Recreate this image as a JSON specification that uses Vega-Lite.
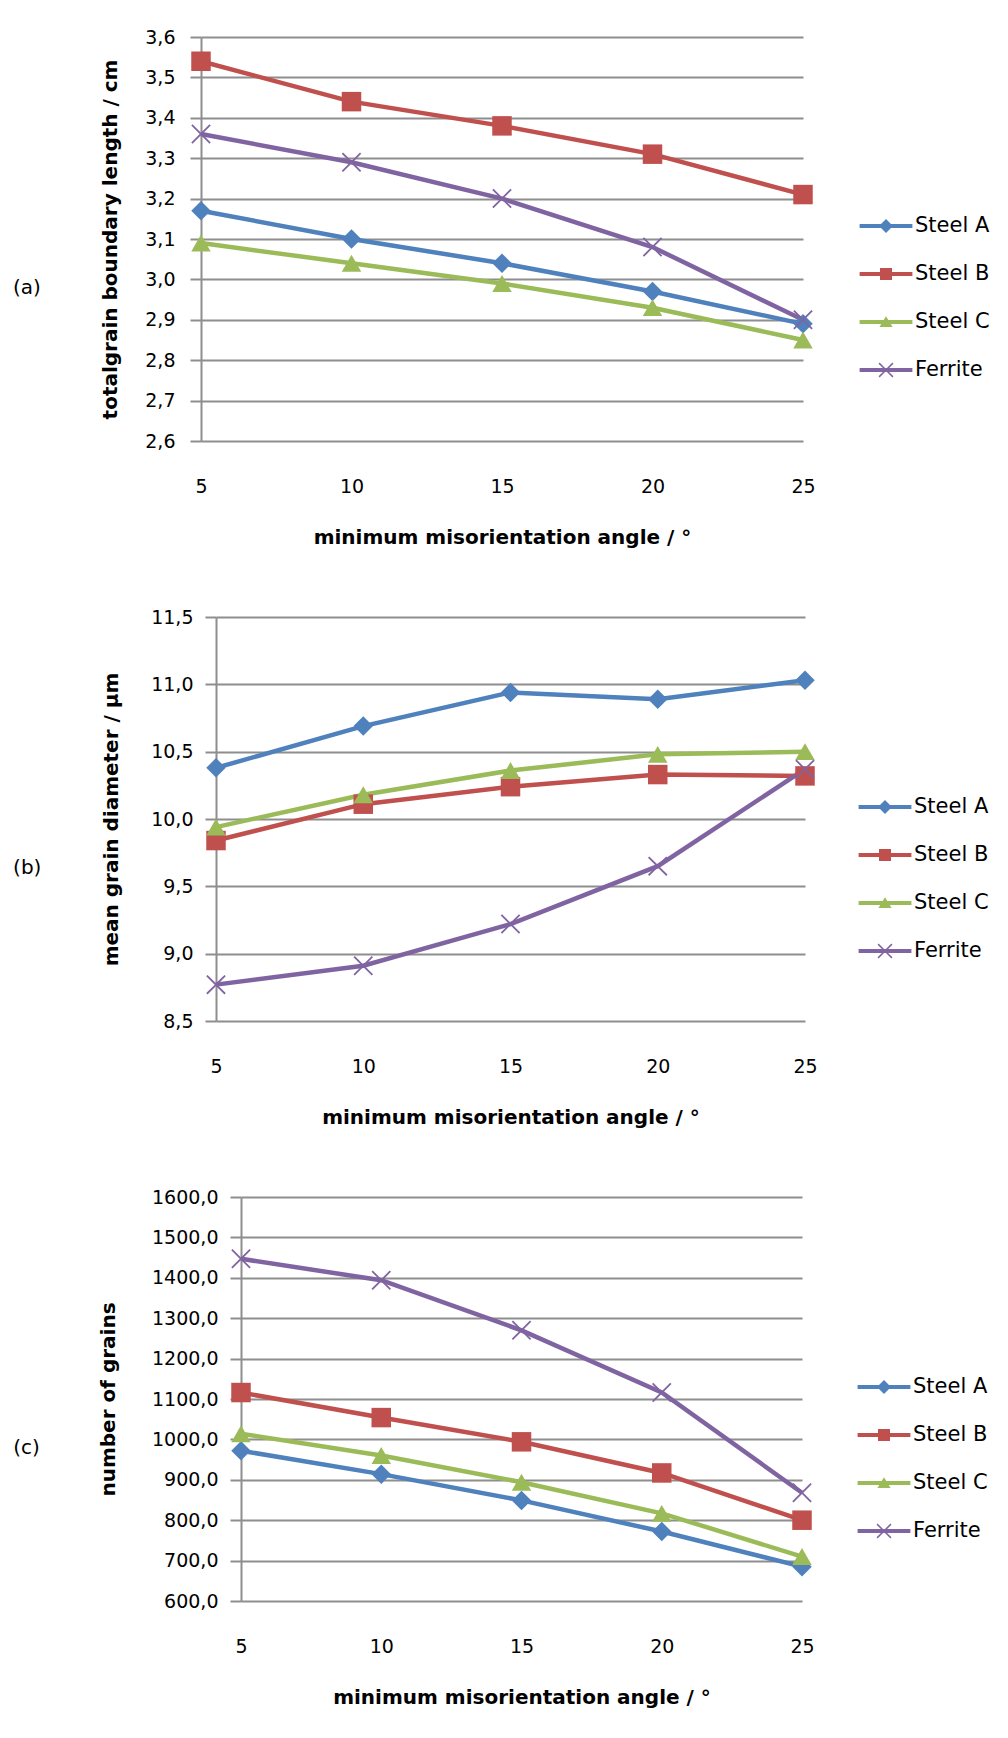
{
  "$schema": "https://vega.github.io/schema/vega-lite/v6.json",
  "padding": {"left": 12, "top": 28, "right": 5, "bottom": 5},
  "background": "#ffffff",
  "datasets": {
    "a": [
      {"angle": 5, "series": "Steel A", "value": 3.17},
      {"angle": 10, "series": "Steel A", "value": 3.10},
      {"angle": 15, "series": "Steel A", "value": 3.04},
      {"angle": 20, "series": "Steel A", "value": 2.97},
      {"angle": 25, "series": "Steel A", "value": 2.89},
      {"angle": 5, "series": "Steel B", "value": 3.54},
      {"angle": 10, "series": "Steel B", "value": 3.44},
      {"angle": 15, "series": "Steel B", "value": 3.38},
      {"angle": 20, "series": "Steel B", "value": 3.31},
      {"angle": 25, "series": "Steel B", "value": 3.21},
      {"angle": 5, "series": "Steel C", "value": 3.09},
      {"angle": 10, "series": "Steel C", "value": 3.04},
      {"angle": 15, "series": "Steel C", "value": 2.99},
      {"angle": 20, "series": "Steel C", "value": 2.93},
      {"angle": 25, "series": "Steel C", "value": 2.85},
      {"angle": 5, "series": "Ferrite", "value": 3.36},
      {"angle": 10, "series": "Ferrite", "value": 3.29},
      {"angle": 15, "series": "Ferrite", "value": 3.20},
      {"angle": 20, "series": "Ferrite", "value": 3.08},
      {"angle": 25, "series": "Ferrite", "value": 2.90}
    ],
    "b": [
      {"angle": 5, "series": "Steel A", "value": 10.38},
      {"angle": 10, "series": "Steel A", "value": 10.69},
      {"angle": 15, "series": "Steel A", "value": 10.94},
      {"angle": 20, "series": "Steel A", "value": 10.89},
      {"angle": 25, "series": "Steel A", "value": 11.03},
      {"angle": 5, "series": "Steel B", "value": 9.84},
      {"angle": 10, "series": "Steel B", "value": 10.11},
      {"angle": 15, "series": "Steel B", "value": 10.24},
      {"angle": 20, "series": "Steel B", "value": 10.33},
      {"angle": 25, "series": "Steel B", "value": 10.32},
      {"angle": 5, "series": "Steel C", "value": 9.94},
      {"angle": 10, "series": "Steel C", "value": 10.18},
      {"angle": 15, "series": "Steel C", "value": 10.36},
      {"angle": 20, "series": "Steel C", "value": 10.48},
      {"angle": 25, "series": "Steel C", "value": 10.50},
      {"angle": 5, "series": "Ferrite", "value": 8.77},
      {"angle": 10, "series": "Ferrite", "value": 8.91},
      {"angle": 15, "series": "Ferrite", "value": 9.22},
      {"angle": 20, "series": "Ferrite", "value": 9.65},
      {"angle": 25, "series": "Ferrite", "value": 10.37}
    ],
    "c": [
      {"angle": 5, "series": "Steel A", "value": 972},
      {"angle": 10, "series": "Steel A", "value": 914},
      {"angle": 15, "series": "Steel A", "value": 849},
      {"angle": 20, "series": "Steel A", "value": 772},
      {"angle": 25, "series": "Steel A", "value": 685},
      {"angle": 5, "series": "Steel B", "value": 1116},
      {"angle": 10, "series": "Steel B", "value": 1054},
      {"angle": 15, "series": "Steel B", "value": 994},
      {"angle": 20, "series": "Steel B", "value": 917},
      {"angle": 25, "series": "Steel B", "value": 800},
      {"angle": 5, "series": "Steel C", "value": 1014},
      {"angle": 10, "series": "Steel C", "value": 960},
      {"angle": 15, "series": "Steel C", "value": 894},
      {"angle": 20, "series": "Steel C", "value": 817},
      {"angle": 25, "series": "Steel C", "value": 710},
      {"angle": 5, "series": "Ferrite", "value": 1447},
      {"angle": 10, "series": "Ferrite", "value": 1394},
      {"angle": 15, "series": "Ferrite", "value": 1270},
      {"angle": 20, "series": "Ferrite", "value": 1116},
      {"angle": 25, "series": "Ferrite", "value": 868}
    ]
  },
  "vconcat": [
    {"spacing": 0, "hconcat": [
    {"width": 1, "height": 10, "data": {"values": []}, "mark": {"type": "point", "opacity": 0}},
    {
      "width": 602,
      "height": 404,
      "data": {"name": "a"},
      "title": {"text": "(a)", "orient": "left", "anchor": "middle", "frame": "bounds", "angle": 0, "align": "right", "baseline": "middle", "offset": 32},
      "encoding": {
        "x": {"field": "angle", "type": "quantitative", "scale": {"domain": [5, 25], "nice": false, "zero": false},
              "axis": {"values": [5, 10, 15, 20, 25], "format": "d", "grid": false, "domain": false, "ticks": false, "labelPadding": 36, "labelFlush": false, "title": "minimum misorientation angle / °", "titlePadding": 31}},
        "y": {"field": "value", "type": "quantitative", "scale": {"domain": [2.6, 3.6], "nice": false, "zero": false},
              "axis": {"values": [2.6, 2.7, 2.8, 2.9, 3.0, 3.1, 3.2, 3.3, 3.4, 3.5, 3.6], "format": ".1f", "tickSize": 11, "labelPadding": 15, "titlePadding": 24, "title": "totalgrain boundary length / cm"}}
      },
      "layer": [
        {
          "mark": {"type": "line", "strokeWidth": 4.5},
          "encoding": {
            "color": {"field": "series", "type": "nominal",
              "scale": {"domain": ["Steel A", "Steel B", "Steel C", "Ferrite"], "range": ["#4F81BD", "#C0504D", "#9BBB59", "#8064A2"]},
              "legend": {"title": null, "orient": "none", "legendX": 862, "legendY": 177,
                "encode": {"symbols": {"update": {
                  "shape": {"signal": "datum.value === 'Steel A' ? 'M-2.2,-0.167H2.2V0.167H-2.2Z M0,-0.58L0.58,0L0,0.58L-0.58,0Z' : datum.value === 'Steel B' ? 'M-2.2,-0.167H2.2V0.167H-2.2Z M-0.5,-0.5H0.5V0.5H-0.5Z' : datum.value === 'Steel C' ? 'M-2.2,-0.167H2.2V0.167H-2.2Z M0,-0.48L0.55,0.42H-0.55Z' : 'M-2.2,-0.167H2.2V0.167H-2.2Z M-0.62,-0.53L-0.53,-0.62L0,-0.09L0.53,-0.62L0.62,-0.53L0.09,0L0.62,0.53L0.53,0.62L0,0.09L-0.53,0.62L-0.62,0.53L-0.09,0Z'"},
                  "fill": {"signal": "datum.value === 'Steel A' ? '#4F81BD' : datum.value === 'Steel B' ? '#C0504D' : datum.value === 'Steel C' ? '#9BBB59' : '#8064A2'"},
                  "stroke": {"value": "transparent"},
                  "strokeWidth": {"value": 0}
                }}}}
            }
          }
        },
        {
          "mark": {"type": "point", "filled": true, "size": 380, "opacity": 1, "strokeWidth": 0},
          "encoding": {
            "color": {"field": "series", "type": "nominal", "legend": null,
              "scale": {"domain": ["Steel A", "Steel B", "Steel C", "Ferrite"], "range": ["#4F81BD", "#C0504D", "#9BBB59", "#8064A2"]}},
            "shape": {"field": "series", "type": "nominal", "legend": null,
              "scale": {"domain": ["Ferrite", "Steel A", "Steel B", "Steel C"], "range": ["M-1,-0.87L-0.87,-1L0,-0.13L0.87,-1L1,-0.87L0.13,0L1,0.87L0.87,1L0,0.13L-0.87,1L-1,0.87L-0.13,0Z", "diamond", "square", "triangle-up"]}}
          }
        }
      ]
    }]},
    {"spacing": 0, "hconcat": [
    {"width": 1, "height": 10, "data": {"values": []}, "mark": {"type": "point", "opacity": 0}},
    {
      "width": 589,
      "height": 404,
      "data": {"name": "b"},
      "title": {"text": "(b)", "orient": "left", "anchor": "middle", "frame": "bounds", "angle": 0, "align": "right", "baseline": "middle", "offset": 32},
      "encoding": {
        "x": {"field": "angle", "type": "quantitative", "scale": {"domain": [5, 25], "nice": false, "zero": false},
              "axis": {"values": [5, 10, 15, 20, 25], "format": "d", "grid": false, "domain": false, "ticks": false, "labelPadding": 36, "labelFlush": false, "title": "minimum misorientation angle / °", "titlePadding": 31}},
        "y": {"field": "value", "type": "quantitative", "scale": {"domain": [8.5, 11.5], "nice": false, "zero": false},
              "axis": {"values": [8.5, 9.0, 9.5, 10.0, 10.5, 11.0, 11.5], "format": ".1f", "tickSize": 11, "labelPadding": 12, "titlePadding": 29, "title": "mean grain diameter / µm"}}
      },
      "layer": [
        {
          "mark": {"type": "line", "strokeWidth": 4.5},
          "encoding": {
            "color": {"field": "series", "type": "nominal",
              "scale": {"domain": ["Steel A", "Steel B", "Steel C", "Ferrite"], "range": ["#4F81BD", "#C0504D", "#9BBB59", "#8064A2"]},
              "legend": {"title": null, "orient": "none", "legendX": 861, "legendY": 178,
                "encode": {"symbols": {"update": {
                  "shape": {"signal": "datum.value === 'Steel A' ? 'M-2.2,-0.167H2.2V0.167H-2.2Z M0,-0.58L0.58,0L0,0.58L-0.58,0Z' : datum.value === 'Steel B' ? 'M-2.2,-0.167H2.2V0.167H-2.2Z M-0.5,-0.5H0.5V0.5H-0.5Z' : datum.value === 'Steel C' ? 'M-2.2,-0.167H2.2V0.167H-2.2Z M0,-0.48L0.55,0.42H-0.55Z' : 'M-2.2,-0.167H2.2V0.167H-2.2Z M-0.62,-0.53L-0.53,-0.62L0,-0.09L0.53,-0.62L0.62,-0.53L0.09,0L0.62,0.53L0.53,0.62L0,0.09L-0.53,0.62L-0.62,0.53L-0.09,0Z'"},
                  "fill": {"signal": "datum.value === 'Steel A' ? '#4F81BD' : datum.value === 'Steel B' ? '#C0504D' : datum.value === 'Steel C' ? '#9BBB59' : '#8064A2'"},
                  "stroke": {"value": "transparent"},
                  "strokeWidth": {"value": 0}
                }}}}
            }
          }
        },
        {
          "mark": {"type": "point", "filled": true, "size": 380, "opacity": 1, "strokeWidth": 0},
          "encoding": {
            "color": {"field": "series", "type": "nominal", "legend": null,
              "scale": {"domain": ["Steel A", "Steel B", "Steel C", "Ferrite"], "range": ["#4F81BD", "#C0504D", "#9BBB59", "#8064A2"]}},
            "shape": {"field": "series", "type": "nominal", "legend": null,
              "scale": {"domain": ["Ferrite", "Steel A", "Steel B", "Steel C"], "range": ["M-1,-0.87L-0.87,-1L0,-0.13L0.87,-1L1,-0.87L0.13,0L1,0.87L0.87,1L0,0.13L-0.87,1L-1,0.87L-0.13,0Z", "diamond", "square", "triangle-up"]}}
          }
        }
      ]
    }]},
    {"spacing": 0, "hconcat": [
    {"width": 1, "height": 10, "data": {"values": []}, "mark": {"type": "point", "opacity": 0}},
    {
      "width": 561,
      "height": 404,
      "data": {"name": "c"},
      "title": {"text": "(c)", "orient": "left", "anchor": "middle", "frame": "bounds", "angle": 0, "align": "right", "baseline": "middle", "offset": 32},
      "encoding": {
        "x": {"field": "angle", "type": "quantitative", "scale": {"domain": [5, 25], "nice": false, "zero": false},
              "axis": {"values": [5, 10, 15, 20, 25], "format": "d", "grid": false, "domain": false, "ticks": false, "labelPadding": 36, "labelFlush": false, "title": "minimum misorientation angle / °", "titlePadding": 31}},
        "y": {"field": "value", "type": "quantitative", "scale": {"domain": [600, 1600], "nice": false, "zero": false},
              "axis": {"values": [600, 700, 800, 900, 1000, 1100, 1200, 1300, 1400, 1500, 1600], "format": ".1f", "tickSize": 11, "labelPadding": 12, "titlePadding": 33, "title": "number of grains"}}
      },
      "layer": [
        {
          "mark": {"type": "line", "strokeWidth": 4.5},
          "encoding": {
            "color": {"field": "series", "type": "nominal",
              "scale": {"domain": ["Steel A", "Steel B", "Steel C", "Ferrite"], "range": ["#4F81BD", "#C0504D", "#9BBB59", "#8064A2"]},
              "legend": {"title": null, "orient": "none", "legendX": 860, "legendY": 178,
                "encode": {"symbols": {"update": {
                  "shape": {"signal": "datum.value === 'Steel A' ? 'M-2.2,-0.167H2.2V0.167H-2.2Z M0,-0.58L0.58,0L0,0.58L-0.58,0Z' : datum.value === 'Steel B' ? 'M-2.2,-0.167H2.2V0.167H-2.2Z M-0.5,-0.5H0.5V0.5H-0.5Z' : datum.value === 'Steel C' ? 'M-2.2,-0.167H2.2V0.167H-2.2Z M0,-0.48L0.55,0.42H-0.55Z' : 'M-2.2,-0.167H2.2V0.167H-2.2Z M-0.62,-0.53L-0.53,-0.62L0,-0.09L0.53,-0.62L0.62,-0.53L0.09,0L0.62,0.53L0.53,0.62L0,0.09L-0.53,0.62L-0.62,0.53L-0.09,0Z'"},
                  "fill": {"signal": "datum.value === 'Steel A' ? '#4F81BD' : datum.value === 'Steel B' ? '#C0504D' : datum.value === 'Steel C' ? '#9BBB59' : '#8064A2'"},
                  "stroke": {"value": "transparent"},
                  "strokeWidth": {"value": 0}
                }}}}
            }
          }
        },
        {
          "mark": {"type": "point", "filled": true, "size": 380, "opacity": 1, "strokeWidth": 0},
          "encoding": {
            "color": {"field": "series", "type": "nominal", "legend": null,
              "scale": {"domain": ["Steel A", "Steel B", "Steel C", "Ferrite"], "range": ["#4F81BD", "#C0504D", "#9BBB59", "#8064A2"]}},
            "shape": {"field": "series", "type": "nominal", "legend": null,
              "scale": {"domain": ["Ferrite", "Steel A", "Steel B", "Steel C"], "range": ["M-1,-0.87L-0.87,-1L0,-0.13L0.87,-1L1,-0.87L0.13,0L1,0.87L0.87,1L0,0.13L-0.87,1L-1,0.87L-0.13,0Z", "diamond", "square", "triangle-up"]}}
          }
        }
      ]
    }]}
  ],
  "spacing": 61,
  "center": false,
  "resolve": {"scale": {"color": "independent", "shape": "independent"}, "legend": {"color": "independent", "shape": "independent"}},
  "config": {
    "view": {"stroke": null},
    "font": "DejaVu Sans",
    "locale": {"number": {"decimal": ",", "thousands": ".", "grouping": [3], "currency": ["", ""]}},
    "title": {"font": "DejaVu Sans", "fontSize": 20, "fontWeight": "normal", "color": "#000000"},
    "axis": {
      "labelFont": "DejaVu Sans", "labelFontSize": 19, "labelColor": "#000000",
      "titleFont": "DejaVu Sans", "titleFontSize": 20, "titleFontWeight": "bold", "titleColor": "#000000",
      "gridColor": "#8e8e8e", "gridWidth": 2, "gridOpacity": 1,
      "domainColor": "#8e8e8e", "domainWidth": 2,
      "tickColor": "#8e8e8e", "tickWidth": 2
    },
    "legend": {
      "labelFont": "DejaVu Sans", "labelFontSize": 21, "labelColor": "#000000",
      "symbolSize": 576, "symbolStrokeWidth": 0, "labelOffset": 17, "rowPadding": 26, "padding": 0
    }
  }
}
